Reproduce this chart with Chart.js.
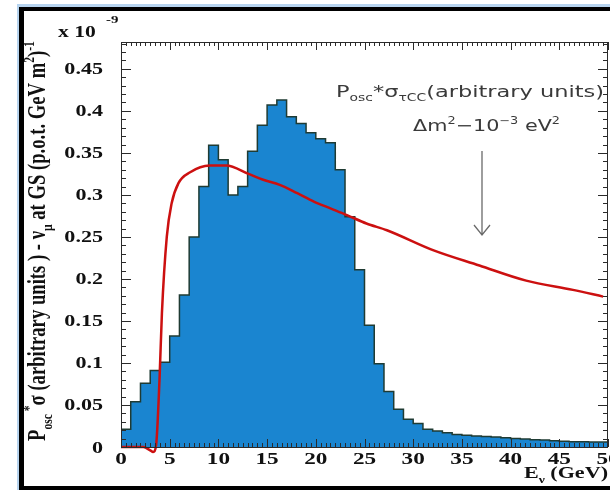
<!DOCTYPE html>
<html>
<head>
<meta charset="utf-8">
<script src="https://cdn.jsdelivr.net/npm/chart.js@4.4.0/dist/chart.umd.min.js"></script>
<style>
  html, body { margin: 0; padding: 0; background: #fff; }
  #chart { display: block; }
</style>
</head>
<body>
<canvas id="chart" width="610" height="490"></canvas>
<script>
// histogram: lower bin edge (GeV) and content (x 10^-9)
const binLow = [0, 1, 2, 3, 4, 5, 6, 7, 8, 9,
  10, 11, 12, 13, 14, 15, 16, 17, 18, 19,
  20, 21, 22, 23, 24, 25, 26, 27, 28, 29,
  30, 31, 32, 33, 34, 35, 36, 37, 38, 39,
  40, 41, 42, 43, 44, 45, 46, 47, 48, 49];
const binContent = [0.021, 0.054, 0.076, 0.091, 0.101, 0.132, 0.181, 0.250, 0.310, 0.359,
  0.342, 0.300, 0.310, 0.352, 0.383, 0.407, 0.413, 0.393, 0.385, 0.374,
  0.367, 0.362, 0.330, 0.274, 0.211, 0.145, 0.099, 0.066, 0.045, 0.033,
  0.028, 0.021, 0.019, 0.017, 0.015, 0.014, 0.013, 0.0125, 0.012, 0.011,
  0.010, 0.0095, 0.0087, 0.0083, 0.0075, 0.0068, 0.0063, 0.0063, 0.006, 0.006];
const binHigh = 50;

// P_osc * sigma_tauCC curve (arbitrary units)
const curveE = [0, 2.3, 3.0, 3.3, 3.6, 3.95, 4.2, 4.7, 5.2, 5.9, 7.1, 9.1, 10.8,
  13.1, 14.6, 16.3, 18.1, 19.8, 21.5, 23.2, 25.2, 27.3, 32.1, 36.8, 41.6, 46.4, 49.5];
const curveV = [0, 0, -0.004, -0.006, 0.002, 0.079, 0.159, 0.250, 0.290, 0.314, 0.327, 0.335, 0.335,
  0.325, 0.318, 0.312, 0.302, 0.292, 0.284, 0.276, 0.266, 0.258, 0.234, 0.216, 0.198, 0.187, 0.179];

const yTicks = [0, 0.05, 0.1, 0.15, 0.2, 0.25, 0.3, 0.35, 0.4, 0.45];
const yTickLabels = ['0', '0.05', '0.1', '0.15', '0.2', '0.25', '0.3', '0.35', '0.4', '0.45'];
const xTicks = [0, 5, 10, 15, 20, 25, 30, 35, 40, 45, 50];

const histPoints = binLow.map((e, i) => ({ x: e, y: binContent[i] }));
histPoints.push({ x: binHigh, y: binContent[binContent.length - 1] });
const curvePoints = curveE.map((e, i) => ({ x: e, y: curveV[i] }));

const SERIF = '"Liberation Serif", "Times New Roman", serif';
const SANS = '"DejaVu Sans", sans-serif';

// draw text pieces with sub/superscripts, left aligned at (x, y) baseline
function richWidth(ctx, segs, size, family, weight) {
  let w = 0;
  segs.forEach(([t, m]) => {
    const s = m ? size * 0.62 : size;
    ctx.font = weight + ' ' + s + 'px ' + family;
    w += ctx.measureText(t).width;
  });
  return w;
}
function drawRich(ctx, segs, x, y, size, family, weight) {
  segs.forEach(([t, m]) => {
    const s = m ? size * 0.62 : size;
    ctx.font = weight + ' ' + s + 'px ' + family;
    let dy = 0;
    if (m === 'sub') dy = size * 0.28;
    if (m === 'sup') dy = -size * 0.42;
    ctx.textAlign = 'left';
    ctx.textBaseline = 'alphabetic';
    ctx.fillText(t, x, y + dy);
    x += ctx.measureText(t).width;
  });
}
function stretchText(ctx, text, x, y, sx, align) {
  ctx.save();
  ctx.translate(x, y);
  ctx.scale(sx, 1);
  ctx.textAlign = align;
  ctx.textBaseline = 'alphabetic';
  ctx.fillText(text, 0, 0);
  ctx.restore();
}

const pagePlugin = {
  id: 'page',
  beforeDraw(chart) {
    const ctx = chart.ctx;
    ctx.save();
    ctx.fillStyle = '#fff';
    ctx.fillRect(0, 0, 610, 490);
    ctx.fillStyle = '#b7d4ef';
    ctx.fillRect(17, 4, 593, 3);
    ctx.fillRect(17, 4, 2, 486);
    ctx.fillStyle = '#000';
    ctx.fillRect(19, 7, 591, 4);
    ctx.fillRect(19, 7, 5, 483);
    ctx.fillRect(19, 486, 591, 4);
    ctx.restore();
  },
  afterDatasetsDraw(chart) {
    const ctx = chart.ctx;
    const xs = chart.scales.x, ys = chart.scales.y;
    const a = chart.chartArea;
    ctx.save();
    ctx.strokeStyle = '#2a2a2a';
    ctx.lineWidth = 1;
    ctx.strokeRect(a.left + 0.5, a.top + 0.5, a.right - a.left - 1, a.bottom - a.top);
    ctx.beginPath();
    for (let i = 0; i <= 48; i++) {
      const py = Math.round(ys.getPixelForValue(i / 100)) + 0.5;
      const len = i % 5 === 0 ? 10 : 5;
      ctx.moveTo(a.left, py); ctx.lineTo(a.left + len, py);
      ctx.moveTo(a.right, py); ctx.lineTo(a.right - len, py);
    }
    for (let i = 0; i <= 100; i++) {
      const px = Math.round(xs.getPixelForValue(i / 2)) + 0.5;
      const len = i % 10 === 0 ? 8 : 4;
      ctx.moveTo(px, a.bottom); ctx.lineTo(px, a.bottom - len);
      ctx.moveTo(px, a.top); ctx.lineTo(px, a.top + len);
    }
    ctx.stroke();

    // tick labels
    ctx.fillStyle = '#111';
    ctx.font = 'bold 16px ' + SERIF;
    yTicks.forEach((v, i) => {
      stretchText(ctx, yTickLabels[i], 103, ys.getPixelForValue(v) + 5.5, 1.38, 'right');
    });
    xTicks.forEach(v => {
      stretchText(ctx, String(v), xs.getPixelForValue(v), 464, 1.45, 'center');
    });

    // exponent
    ctx.font = 'bold 16px ' + SERIF;
    stretchText(ctx, 'x 10', 58, 37, 1.35, 'left');
    ctx.font = 'bold 11px ' + SERIF;
    stretchText(ctx, '-9', 106, 23, 1.35, 'left');

    // x title
    const xt = [['E', ''], ['\u03bd', 'sub'], [' (GeV)', '']];
    const xw = richWidth(ctx, xt, 17, SERIF, 'bold');
    ctx.save();
    ctx.translate(608, 478);
    ctx.scale(1.3, 1);
    drawRich(ctx, xt, -xw, 0, 17, SERIF, 'bold');
    ctx.restore();

    // y title
    const yt = [['P', ''], ['osc', 'sub'], [' *', 'sup'], ['\u03c3 (arbitrary units ) - \u03bd', ''], ['\u03bc', 'sub'],
      [' at GS (p.o.t. GeV m', ''], ['2', 'sup'], [')', ''], ['-1', 'sup']];
    const yw0 = richWidth(ctx, yt, 16, SERIF, 'bold');
    const ysz = 16 * 400 / yw0;
    const yw = richWidth(ctx, yt, ysz, SERIF, 'bold');
    ctx.save();
    ctx.translate(45, 241);
    ctx.rotate(-Math.PI / 2);
    ctx.scale(1, 1.35);
    drawRich(ctx, yt, -yw / 2, 0, ysz, SERIF, 'bold');
    ctx.restore();

    // annotation
    ctx.fillStyle = '#3a3a3a';
    const l1 = [['P', ''], ['osc', 'sub'], ['*\u03c3', ''], ['\u03c4CC', 'sub'], ['(arbitrary units)', '']];
    const w1 = richWidth(ctx, l1, 16, SANS, 'normal');
    ctx.save();
    ctx.translate(336, 96.5);
    ctx.scale(268 / w1, 1);
    drawRich(ctx, l1, 0, 0, 16, SANS, 'normal');
    ctx.restore();
    const l2 = [['\u0394m', ''], ['2', 'sup'], ['\u221210', ''], ['\u22123', 'sup'], [' eV', ''], ['2', 'sup']];
    const w2 = richWidth(ctx, l2, 16, SANS, 'normal');
    ctx.save();
    ctx.translate(413, 131);
    ctx.scale(147 / w2, 1);
    drawRich(ctx, l2, 0, 0, 16, SANS, 'normal');
    ctx.restore();

    // arrow
    ctx.strokeStyle = '#6a6a6a';
    ctx.lineWidth = 1.3;
    ctx.beginPath();
    ctx.moveTo(482, 151); ctx.lineTo(482, 235);
    ctx.moveTo(474, 225); ctx.lineTo(482, 235); ctx.lineTo(490, 225);
    ctx.stroke();
    ctx.restore();
  }
};

new Chart(document.getElementById('chart'), {
  type: 'line',
  data: {
    datasets: [
      {
        data: curvePoints,
        borderColor: '#cc1010',
        borderWidth: 2.5,
        pointRadius: 0,
        cubicInterpolationMode: 'monotone',
        fill: false,
        clip: false,
        order: 0
      },
      {
        data: histPoints,
        stepped: 'before',
        borderColor: '#1f3b33',
        borderWidth: 1.5,
        backgroundColor: 'rgb(26, 133, 208)',
        fill: 'origin',
        pointRadius: 0,
        tension: 0,
        order: 1
      }
    ]
  },
  options: {
    responsive: false,
    animation: false,
    devicePixelRatio: 1,
    layout: { padding: { left: 121, right: 2, top: 42, bottom: 43 } },
    plugins: { legend: { display: false }, tooltip: { enabled: false } },
    scales: {
      x: { type: 'linear', min: 0, max: 50, display: false },
      y: { type: 'linear', min: 0, max: 0.482, display: false }
    }
  },
  plugins: [pagePlugin]
});
</script>
</body>
</html>
